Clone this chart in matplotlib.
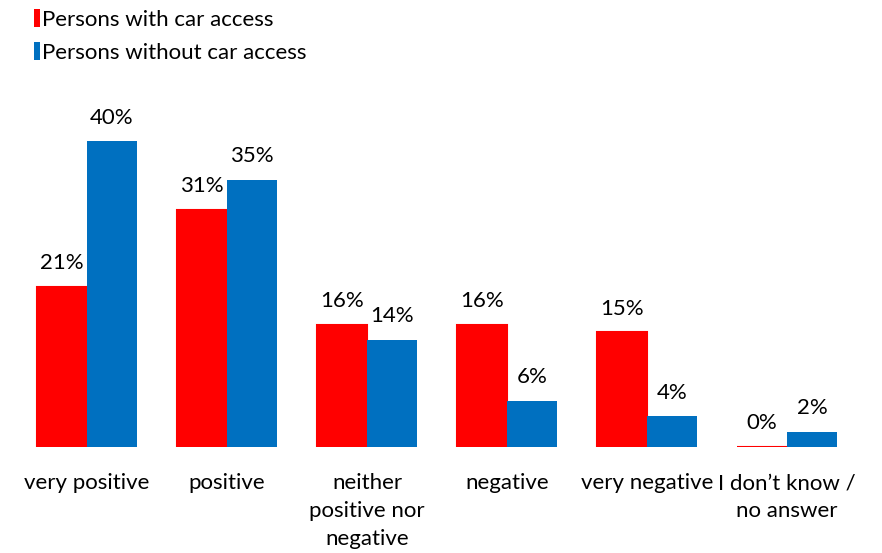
import numpy as np
import matplotlib.pyplot as plt
from matplotlib.patches import Patch

plt.rcParams['font.family'] = ['Lato', 'DejaVu Sans']

# Attitude categories and shares (%) for each group
categories = ["very positive", "positive", "neither\npositive nor\nnegative",
              "negative", "very negative", "I don\u2019t know /\nno answer"]
with_car = [21, 31, 16, 16, 15, 0]
without_car = [40, 35, 14, 6, 4, 2]
series_names = ["Persons with car access", "Persons without car access"]

red = "#FF0000"
blue = "#0070C0"

fig = plt.figure(figsize=(8.82, 5.53), dpi=100)
ax = fig.add_axes([17 / 882, 1 - 447 / 553, 840 / 882, 317 / 553])

x = np.arange(len(categories))
w = 50 / 140

bars_a = ax.bar(x - w / 2, with_car, w, color=red, edgecolor=red, linewidth=1.5)
bars_b = ax.bar(x + w / 2, without_car, w, color=blue, linewidth=0)

for bars, vals in ((bars_a, with_car), (bars_b, without_car)):
    for b, v in zip(bars, vals):
        ax.annotate(f"{v}%", (b.get_x() + b.get_width() / 2, v),
                    xytext=(0, 10), textcoords="offset points",
                    ha="center", va="bottom", fontsize=16, color="#000000")

ax.set_xlim(-0.5, len(categories) - 0.5)
ax.set_ylim(0, 41.5)
ax.set_xticks(x)
ax.set_xticklabels(categories, fontsize=16, linespacing=1.5, va="top")
ax.tick_params(axis="x", length=0, pad=19)
ax.set_yticks([])
for s in ax.spines.values():
    s.set_visible(False)

handles = [Patch(facecolor=red), Patch(facecolor=blue)]
fig.legend(handles, series_names, loc="upper left", bbox_to_anchor=(0.028, 1.0),
           frameon=False, fontsize=16, handlelength=0.3, handleheight=0.9,
           handletextpad=0.1, labelspacing=0.55, borderaxespad=0)

fig.savefig("out.png", dpi=100)
